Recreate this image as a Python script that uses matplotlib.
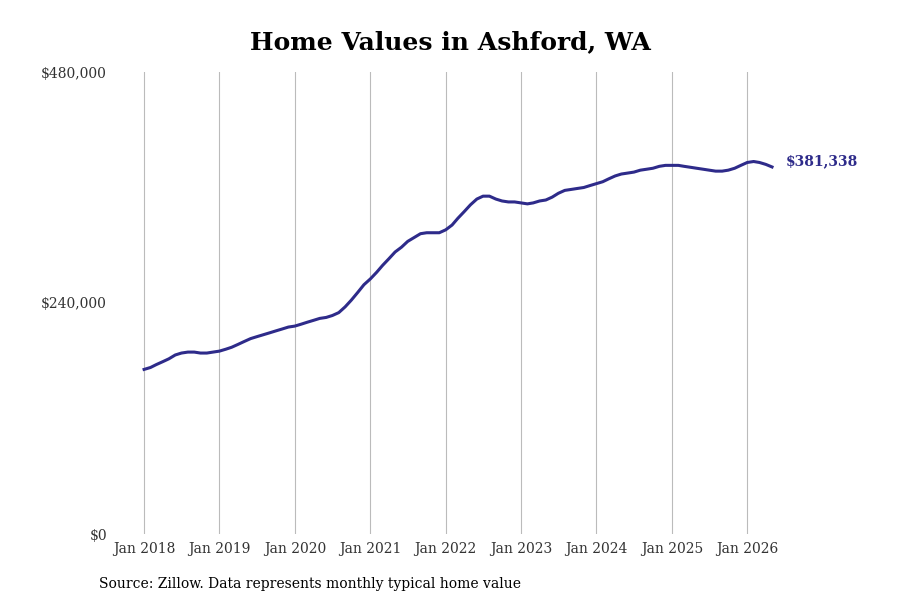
import matplotlib
matplotlib.use("Agg")
import matplotlib.pyplot as plt
import pandas as pd

start = "2018-01-01"
values = [
 171,173,176,179,182,186,188,189,189,188,188,189,   # 2018
 190,192,194,197,200,203,205,207,209,211,213,215,   # 2019
 216,218,220,222,224,225,227,230,236,243,251,259,   # 2020
 265,272,279,286,293,298,304,308,312,313,313,313,   # 2021
 316,321,328,335,342,348,351,351,348,346,345,345,   # 2022
 344,343,344,346,347,350,354,357,358,359,360,362,   # 2023
 364,366,369,372,374,375,376,378,379,380,382,383,   # 2024
 383,383,382,381,380,379,378,377,377,378,380,383,   # 2025
 386,387,386,384,381.338,                           # 2026
]
values = [v * 1000 for v in values]
dates = pd.date_range(start, periods=len(values), freq="MS")
last_label = "$381,338"
yticks = [0, 240000, 480000]
ytick_labels = ["$0", "$240,000", "$480,000"]
xtick_years = list(range(2018, 2027))

plt.rcParams['font.family'] = ['DejaVu Serif']
fig, ax = plt.subplots(figsize=(9, 6), dpi=100)
fig.subplots_adjust(left=0.139, right=0.914, top=0.88, bottom=0.11)
ax.plot(dates, values, color="#2e2b8a", lw=2.2)
ax.set_ylim(0, 480000)
ax.set_yticks(yticks)
ax.set_yticklabels(ytick_labels, fontsize=10, color="#333333")
xt = [pd.Timestamp(f"{y}-01-01") for y in xtick_years]
ax.set_xticks(xt)
ax.set_xticklabels([f"Jan {y}" for y in xtick_years], fontsize=10, color="#333333")
ax.set_xlim(pd.Timestamp("2017-10-01"), pd.Timestamp("2027-01-01"))
ax.grid(axis="x", color="#bbbbbb", lw=0.8)
for s in ax.spines.values():
    s.set_visible(False)
ax.tick_params(axis="x", length=0, pad=6)
ax.tick_params(axis="y", length=0, pad=13)
ax.annotate(last_label, (dates[-1], values[-1]), xytext=(10, 4), textcoords="offset points",
            color="#2e2b8a", fontsize=10, fontweight="bold", va="center")
fig.suptitle("Home Values in Ashford, WA", fontsize=18, fontweight="bold", y=0.95)
fig.text(0.11, 0.02, "Source: Zillow. Data represents monthly typical home value", fontsize=10)
fig.savefig("out.png")
